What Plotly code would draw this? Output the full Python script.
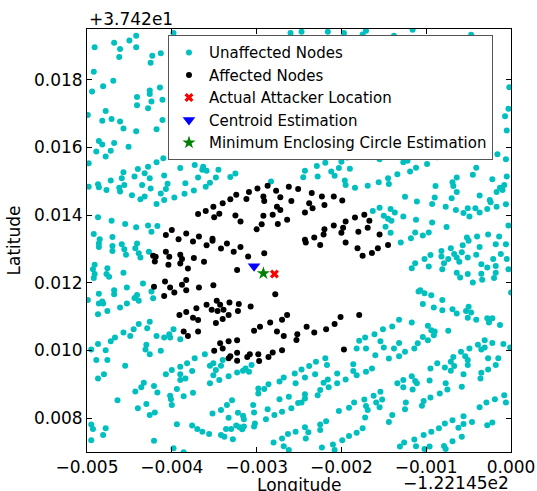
import plotly.graph_objects as go

# Offsets from the base coordinates, in units of 1e-5 degree
LON_BASE = -122.145
LAT_BASE = 37.42
UNIT = 1e-5

# (longitude offset, latitude offset) in 1e-5 degree
unaffected_nodes = [
    (-491,1896),(-468,1909),(-461,1891),(-450,1916),(-442,1930),(-442,1896),(-462,1867),(-423,1871),
    (-413,1878),(-425,1850),(-492,1824),(-469,1797),(-481,1781),(-494,1765),(-426,1768),(-426,1758),
    (-414,1777),(-441,1749),(-424,1736),(-411,1741),(-441,1725),(-428,1716),(-478,1708),(-482,1679),
    (-471,1684),(-461,1677),(-457,1656),(-442,1648),(-418,1654),(-411,1681),(-499,1696),(-398,1938),
    (-247,1942),(-216,1942),(-197,1938),(-175,1934),(-171,1945),(-138,1930),(-116,1948),(-47,1933),
    (-2,1778),(-3,1714),(-7,1692),(-5,1650),(-260,1938),
    (-486,1619),(-482,1609),(-468,1613),(-489,1588),(-472,1590),(-478,1573),(-451,1602),(-498,1553),
    (-400,1576),(-410,1568),(-418,1556),(-428,1543),(-440,1536),(-457,1527),(-432,1524),(-459,1509),
    (-444,1514),(-426,1509),(-409,1517),(-390,1539),(-373,1548),(-363,1543),(-364,1534),(-359,1531),
    (-345,1534),(-325,1523),(-331,1513),(-348,1511),(-369,1511),(-355,1496),(-360,1484),(-374,1473),
    (-384,1494),(-385,1463),(-397,1452),(-405,1493),(-407,1477),(-413,1464),(-409,1445),(-418,1433),
    (-432,1455),(-437,1447),(-447,1459),(-435,1489),(-425,1479),(-456,1489),(-462,1481),(-461,1470),
    (-472,1502),(-477,1474),(-487,1491),(-486,1482),(-498,1484),(-288,1580),(-283,1499),(-355,1586),
    (-487,1394),(-471,1383),(-455,1374),(-442,1364),(-428,1369),(-424,1351),(-417,1368),(-492,1344),
    (-485,1329),(-470,1335),
    (-162,1580),(-155,1565),(-132,1583),(-127,1556),(-122,1561),(-99,1551),(-87,1571),(-112,1540),
    (-119,1529),(-134,1521),(-145,1509),(-144,1492),(-156,1497),(-169,1487),(-184,1481),(-196,1502),
    (-195,1489),(-190,1537),(-200,1558),(-193,1570),(-203,1539),(-212,1529),(-208,1516),(-219,1555),
    (-229,1545),(-228,1514),(-243,1531),(-245,1512),(-16,1580),(-6,1565),(-41,1540),(-45,1519),
    (-64,1511),(-69,1497),(-68,1486),(-64,1468),(-70,1450),(-77,1425),(-65,1415),(-56,1406),
    (-51,1420),(-49,1396),(-42,1420),(-37,1408),(-37,1458),(-28,1418),(-25,1445),(-24,1438),
    (-17,1425),(-17,1468),(-13,1481),(-10,1474),(-8,1489),(-6,1432),(-22,1506),(-5,1514),
    (-89,1486),(-90,1452),(-93,1433),(-111,1440),(-125,1454),(-93,1378),(-76,1365),(-112,1386),
    (-127,1396),(-137,1408),(-142,1418),(-155,1422),(-163,1412),(-150,1398),(-145,1389),(-141,1383),
    (-148,1366),(-142,1348),(-113,1349),(-104,1340),(-97,1349),(-118,1332),(-52,1334),(-40,1337),
    (-27,1343),(-14,1337),(-3,1369),
    (-486,1316),(-486,1306),(-470,1309),(-470,1294),(-459,1314),(-456,1299),(-441,1316),(-443,1302),
    (-439,1287),(-437,1275),(-454,1283),(-427,1292),(-491,1253),(-493,1240),(-491,1226),(-492,1214),
    (-476,1243),(-477,1226),(-474,1218),(-457,1230),(-434,1198),(-453,1186),(-468,1178),(-468,1166),
    (-486,1168),(-486,1139),(-482,1145),(-481,1139),(-499,1149),(-487,1107),(-476,1117),(-461,1127),
    (-453,1139),(-441,1164),(-439,1147),(-444,1155),(-424,1174),(-422,1154),(-426,1085),(-439,1078),
    (-445,1063),(-429,1066),(-457,1053),(-449,1043),(-467,1038),(-472,1027),(-487,1019),(-418,1043),
    (-409,1038),(-403,1048),(-398,1063),(-402,1038),(-390,1033),(-430,1017),
    (-130,1319),(-117,1243),(-113,1258),(-102,1270),(-97,1248),(-95,1282),(-82,1294),(-82,1278),
    (-79,1258),(-81,1240),(-74,1270),(-71,1302),(-67,1285),(-64,1275),(-61,1262),(-58,1290),
    (-57,1311),(-64,1230),(-60,1216),(-51,1226),(-51,1275),(-50,1324),(-45,1201),(-41,1283),
    (-37,1306),(-35,1255),(-35,1227),(-34,1209),(-28,1245),(-21,1270),(-18,1314),(-18,1250),
    (-18,1230),(-20,1214),(-12,1285),(-5,1270),(-3,1240),(-6,1314),(0,1171),(-109,1174),
    (-107,1178),(-102,1169),(-94,1163),(-81,1149),(-104,1137),(-91,1127),(-81,1119),(-69,1122),
    (-64,1109),(-53,1117),(-50,1129),(-47,1112),(-51,1097),(-41,1091),(-28,1095),(-26,1083),
    (-22,1095),(-13,1075),(-132,1091),(-117,1083),(-140,1071),(-151,1063),(-161,1048),(-172,1038),
    (-179,1029),(-154,1027),(-132,1022),(-110,1021),(-104,1040),(-98,1073),(-94,1060),(-90,1056),
    (-91,1045),(-98,1030),(-74,1058),(-31,1030),(-22,1022),(-9,1019),(-39,1017),
    (-495,1003),(-478,1001),(-489,972),(-476,972),(-455,955),(-480,930),(-487,917),(-431,1003),
    (-426,989),(-413,999),(-361,989),(-373,977),(-382,962),(-390,952),(-400,942),(-407,930),
    (-390,930),(-384,917),(-390,913),(-376,939),(-375,875),(-386,865),(-394,886),(-402,866),
    (-401,856),(-400,839),(-421,895),(-417,876),(-433,905),(-436,891),(-443,879),(-430,842),
    (-440,829),(-426,809),(-420,817),(-464,853),(-355,955),(-351,962),(-348,942),(-342,955),
    (-340,972),(-351,927),(-355,903),(-344,913),(-333,924),(-323,935),(-316,940),(-313,947),
    (-309,937),(-306,957),(-298,888),(-298,873),(-291,886),(-286,900),(-273,908),(-268,920),
    (-255,932),(-254,903),(-273,856),(-262,863),(-251,845),(-287,826),(-279,809),(-289,797),
    (-270,819),(-259,829),(-304,839),(-303,817),(-316,807),(-315,797),(-322,816),(-329,853),
    (-335,839),(-342,824),(-352,814),(-333,801),(-336,768),(-330,768),(-324,778),(-320,773),
    (-317,770),(-315,775),(-302,784),(-303,775),(-342,750),(-338,745),(-328,738),(-317,767),
    (-394,782),(-376,778),(-370,768),(-364,760),(-356,753),(-495,781),(-493,768),(-478,770),
    (-481,750),(-495,735),(-421,733),(-398,711),(-386,699),(-280,728),(-270,740),(-263,753),
    (-254,760),(-268,717),(-262,706),
    (-182,1006),(-171,1006),(-150,1009),(-138,1006),(-114,1006),(-125,996),(-132,983),(-144,976),
    (-160,986),(-247,944),(-238,954),(-230,967),(-219,977),(-217,957),(-243,920),(-231,930),
    (-216,914),(-221,905),(-215,891),(-205,932),(-205,903),(-195,914),(-186,959),(-186,939),
    (-182,927),(-171,937),(-164,947),(-243,871),(-243,858),(-228,868),(-225,883),(-247,846),
    (-154,878),(-162,866),(-173,855),(-185,846),(-191,831),(-171,836),(-169,824),(-172,802),
    (-203,821),(-159,846),(-155,832),(-152,855),(-134,903),(-127,913),(-127,891),(-117,924),
    (-116,885),(-113,910),(-111,903),(-96,911),(-95,947),(-87,962),(-78,950),(-71,967),
    (-68,981),(-71,940),(-67,954),(-59,996),(-54,983),(-51,972),(-51,957),(-56,930),
    (-58,893),(-77,903),(-75,885),(-84,873),(-95,861),(-103,851),(-105,837),(-124,846),
    (-125,826),(-140,809),(-144,789),(-35,934),(-36,917),(-27,977),(-27,944),(-18,957),
    (-15,977),(-35,1003),(-31,1009),(-49,1006),(-1,1009),(-37,832),(-29,846),(-19,856),
    (-8,868),(-6,846),(-22,787),(-28,779),(-46,789),(-56,806),(-56,783),(-62,772),
    (-69,794),(-78,784),(-85,770),(-94,760),(-103,750),(-58,745),(-69,732),(-79,718),
    (-77,709),(-96,716),(-102,709),(-114,737),(-112,717),(-126,728),(-131,716),(-191,747),
    (-199,735),(-210,722),(-208,706),(-223,713),(-218,791),(-225,781),(-225,765),(-243,773),
    (-239,758),(-242,740),(-175,770),(-182,757),
]

affected_nodes = [
    (-369,1403),(-360,1412),(-351,1425),(-350,1394),(-344,1404),(-340,1435),(-331,1447),(-324,1460),
    (-325,1399),(-319,1381),(-312,1448),(-309,1468),(-299,1479),(-287,1487),(-292,1455),(-291,1442),
    (-292,1398),(-294,1373),(-300,1358),(-281,1401),(-277,1472),(-272,1453),(-276,1425),(-272,1415),
    (-275,1374),(-264,1386),(-262,1484),(-259,1442),(-251,1477),(-407,1341),(-400,1356),(-392,1329),
    (-383,1346),(-368,1337),(-352,1330),
    (-235,1465),(-223,1455),(-209,1455),(-199,1443),(-238,1435),(-234,1420),(-220,1430),(-243,1408),
    (-184,1393),(-173,1401),(-167,1383),(-195,1381),(-209,1369),(-198,1363),(-169,1363),(-180,1351),
    (-155,1343),(-200,1348),(-221,1343),(-220,1358),(-232,1334),(-243,1327),
    (-422,1280),(-419,1277),(-407,1292),(-403,1277),(-420,1263),(-404,1253),(-390,1283),(-388,1270),
    (-390,1257),(-381,1242),(-374,1273),(-362,1262),(-375,1322),(-359,1311),(-352,1324),(-342,1301),
    (-335,1316),(-327,1292),(-319,1306),(-310,1278),(-291,1287),(-323,1238),(-421,1188),(-408,1204),
    (-402,1186),(-397,1171),(-388,1194),(-383,1208),(-383,1178),(-368,1186),(-351,1193),(-409,1161),
    (-278,1166),(-359,1135),(-353,1120),(-347,1147),(-343,1135),(-346,1117),(-339,1120),(-332,1142),
    (-321,1137),(-322,1117),(-307,1130),(-371,1125),(-383,1114),(-391,1105),(-375,1097),(-369,1090),
    (-348,1081),(-340,1093),(-333,1105),(-303,1058),(-296,1070),(-284,1083),(-270,1091),(-264,1105),
    (-276,1056),(-268,1043),(-252,1048),(-253,1031),(-386,1056),(-381,1043),(-369,1056),(-343,1021),
    (-333,1027),(-323,1030),
    (-242,1319),(-225,1312),(-195,1319),(-181,1302),(-175,1280),(-164,1288),(-157,1302),(-145,1312),
    (-179,1105),(-201,1099),(-208,1078),(-218,1063),(-232,1053),(-241,1070),
    (-350,999),(-340,1006),(-333,977),(-331,983),(-323,993),(-323,970),(-311,981),(-308,989),
    (-298,989),(-297,969),(-286,981),(-281,994),(-270,1001),(-197,1003),
]

actual_attacker = [(-279, 1226)]
centroid_estimate = [(-303, 1249)]
mec_estimate = [(-292, 1228)]

x_ticks = [-0.005, -0.004, -0.003, -0.002, -0.001, 0.0]
y_ticks = [0.008, 0.010, 0.012, 0.014, 0.016, 0.018]


def xy(points):
    return [p[0] * UNIT for p in points], [p[1] * UNIT for p in points]


FONT = "DejaVu Sans"
fig = go.Figure()

series = [
    ("Unaffected Nodes", unaffected_nodes, "circle", 6, "#00BFBF"),
    ("Affected Nodes", affected_nodes, "circle", 6, "#000000"),
    ("Actual Attacker Location", actual_attacker, "x", 8, "#FF0000"),
    ("Centroid Estimation", centroid_estimate, "triangle-down", 11, "#0000FF"),
    ("Minimum Enclosing Circle Estimation", mec_estimate, "star", 10, "#008000"),
]
for name, pts, sym, size, col in series:
    xs, ys = xy(pts)
    fig.add_trace(go.Scatter(
        x=xs, y=ys, mode="markers", name=name,
        marker=dict(symbol=sym, size=size, color=col, line=dict(width=0)),
    ))

axis_common = dict(
    showgrid=False, zeroline=False, showline=True, linecolor="#000000", linewidth=1,
    mirror="allticks", ticks="inside", ticklen=5, tickcolor="#000000",
    tickfont=dict(family=FONT, size=17, color="#000000"),
    tickformat=".3f",
)

fig.update_xaxes(range=[-0.005, 0.0], tickvals=x_ticks, automargin=False, **axis_common)
fig.update_yaxes(range=[0.007, 0.0195], tickvals=y_ticks, automargin=False,
                 title=dict(text="Latitude", font=dict(family=FONT, size=17, color="#000000"), standoff=8),
                 **axis_common)

fig.add_annotation(text="Longitude", xref="paper", yref="paper", x=0.5, y=-0.077,
                   xanchor="center", yanchor="middle", showarrow=False,
                   font=dict(family=FONT, size=17, color="#000000"))
fig.add_annotation(text="+3.742e1", xref="paper", yref="paper", x=0, y=1.0,
                   xanchor="left", yanchor="bottom", showarrow=False, yshift=-2,
                   font=dict(family=FONT, size=17, color="#000000"))
fig.add_annotation(text="\u22121.22145e2", xref="paper", yref="paper", x=1.0, y=-0.074,
                   xanchor="right", yanchor="middle", showarrow=False,
                   font=dict(family=FONT, size=17, color="#000000"))

fig.update_layout(
    width=537, height=491,
    margin=dict(l=87, r=26, t=29, b=39),
    paper_bgcolor="#FFFFFF", plot_bgcolor="#FFFFFF",
    font=dict(family=FONT, size=16, color="#000000"),
    showlegend=True,
    legend=dict(
        x=0.191, y=0.985, xanchor="left", yanchor="top",
        bgcolor="#FFFFFF", bordercolor="#555555", borderwidth=1,
        font=dict(family=FONT, size=15, color="#000000"),
        tracegroupgap=0, itemsizing="trace",
    ),
)

fig.write_html("out.html", config={"displayModeBar": False},
               post_script="document.body.style.margin='0';document.body.style.overflow='hidden';")
